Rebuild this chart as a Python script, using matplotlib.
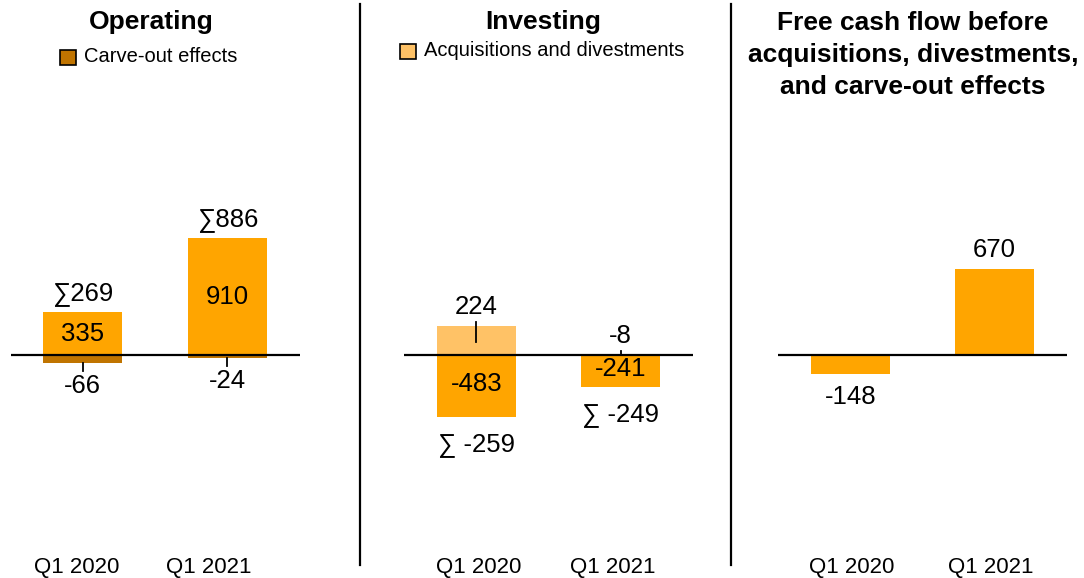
import matplotlib
matplotlib.use("Agg")
import matplotlib.pyplot as plt
from matplotlib.patches import Rectangle
from matplotlib.lines import Line2D

# Cash flow figures (EUR m)
quarters = ["Q1 2020", "Q1 2021"]
operating_core = [335, 910]
carve_out = [-66, -24]
operating_total = [269, 886]
investing_core = [-483, -241]
acq_divest = [224, -8]
investing_total = [-259, -249]
fcf = [-148, 670]

titles = ["Operating", "Investing",
          "Free cash flow before\nacquisitions, divestments,\nand carve-out effects"]
legend_labels = ["Carve-out effects", "Acquisitions and divestments"]

ORANGE = "#FFA500"
LIGHT = "#FFC266"
DARK = "#C07400"

W, H = 1084, 578
FONT = ["Liberation Sans", "DejaVu Sans"]
plt.rcParams["font.family"] = FONT

fig = plt.figure(figsize=(W / 100, H / 100), dpi=100)

PX_PER_UNIT = 0.1283
ZERO_PX = 355
YMAX = ZERO_PX / PX_PER_UNIT
YMIN = -(H - ZERO_PX) / PX_PER_UNIT
BAR_W = 0.55
VAL_FS = 18.5
CAT_FS = 16
PT = 0.72  # points per pixel at 100 dpi
PANEL_W = 289


def px_to_y(py):
    return (ZERO_PX - py) / PX_PER_UNIT


def panel(left_px, cat_shift_px):
    ax = fig.add_axes([left_px / W, 0, PANEL_W / W, 1])
    ax.set_xlim(-0.5, 1.5)
    ax.set_ylim(YMIN, YMAX)
    ax.axis("off")
    ax.axhline(0, color="black", lw=1.6, zorder=4)
    unit_px = PANEL_W / 2
    for i, q in enumerate(quarters):
        ax.text(i + cat_shift_px[i] / unit_px, px_to_y(567), q,
                ha="center", va="center", fontsize=CAT_FS)
    return ax


def label(ax, x, y, text, dy_px):
    ax.annotate(text, xy=(x, y), xytext=(0, dy_px * PT), textcoords="offset points",
                ha="center", va="center", fontsize=VAL_FS, zorder=6)


def leader(ax, x, y, y0_px, y1_px):
    # short vertical connector, offsets in pixels relative to value y
    yy0 = y - y0_px / PX_PER_UNIT
    yy1 = y - y1_px / PX_PER_UNIT
    ax.plot([x, x], [yy0, yy1], color="black", lw=1.3, zorder=5)


x = list(range(len(quarters)))

# Operating
ax1 = panel(10.5, [-6, -19])
ax1.bar(x, operating_core, width=BAR_W, color=ORANGE, zorder=2)
ax1.bar(x, carve_out, width=BAR_W, color=DARK, zorder=2)
for i in x:
    label(ax1, i, operating_core[i] / 2, str(operating_core[i]), 0)
    label(ax1, i, operating_core[i], "\u2211" + str(operating_total[i]), 18)
    label(ax1, i, carve_out[i], str(carve_out[i]), -23)
    leader(ax1, i, carve_out[i], 0, 8)

# Investing
ax2 = panel(404, [2, -8])
ax2.bar(x, acq_divest, width=BAR_W, color=LIGHT, zorder=2)
inv_base = [min(a, 0) for a in acq_divest]
ax2.bar(x, investing_core, bottom=inv_base, width=BAR_W, color=ORANGE, zorder=2)
for i in x:
    bottom = inv_base[i] + investing_core[i]
    mid = inv_base[i] + investing_core[i] / 2
    label(ax2, i, mid, str(investing_core[i]), 2)
    label(ax2, i, bottom, "\u2211 " + str(investing_total[i]), -28)
    if acq_divest[i] > 0:
        label(ax2, i, acq_divest[i], str(acq_divest[i]), 19)
        leader(ax2, i, acq_divest[i], -4, 16)
    else:
        label(ax2, i, 0, str(acq_divest[i]), 19)
        leader(ax2, i, 0, -4, 0)

# Free cash flow
ax3 = panel(778, [1, -4])
ax3.bar(x, fcf, width=BAR_W, color=ORANGE, zorder=2)
for i in x:
    if fcf[i] >= 0:
        label(ax3, i, fcf[i], str(fcf[i]), 19)
    else:
        label(ax3, i, fcf[i], str(fcf[i]), -23)

# Titles
title_pos = [(151, 22), (543, 22), (913, 55)]
for t, (tx, ty) in zip(titles, title_pos):
    fig.text(tx / W, 1 - ty / H, t, ha="center", va="center", fontsize=19,
             fontweight="bold", linespacing=1.44)

# Legends
legend_pos = [(60, 57, DARK), (400, 51, LIGHT)]
for lab, (lx, ly, col) in zip(legend_labels, legend_pos):
    fig.add_artist(Rectangle((lx / W, 1 - (ly + 7.5) / H), 16 / W, 15 / H,
                             transform=fig.transFigure, facecolor=col,
                             edgecolor="black", lw=1.2))
    fig.text((lx + 24) / W, 1 - ly / H, lab, ha="left", va="center", fontsize=14.5)

# Panel separators
for sx in (360, 731):
    fig.add_artist(Line2D([sx / W, sx / W], [1 - 4 / H, 1 - 565 / H],
                          transform=fig.transFigure, color="black", lw=1.6))

fig.savefig("out.png", dpi=100)
